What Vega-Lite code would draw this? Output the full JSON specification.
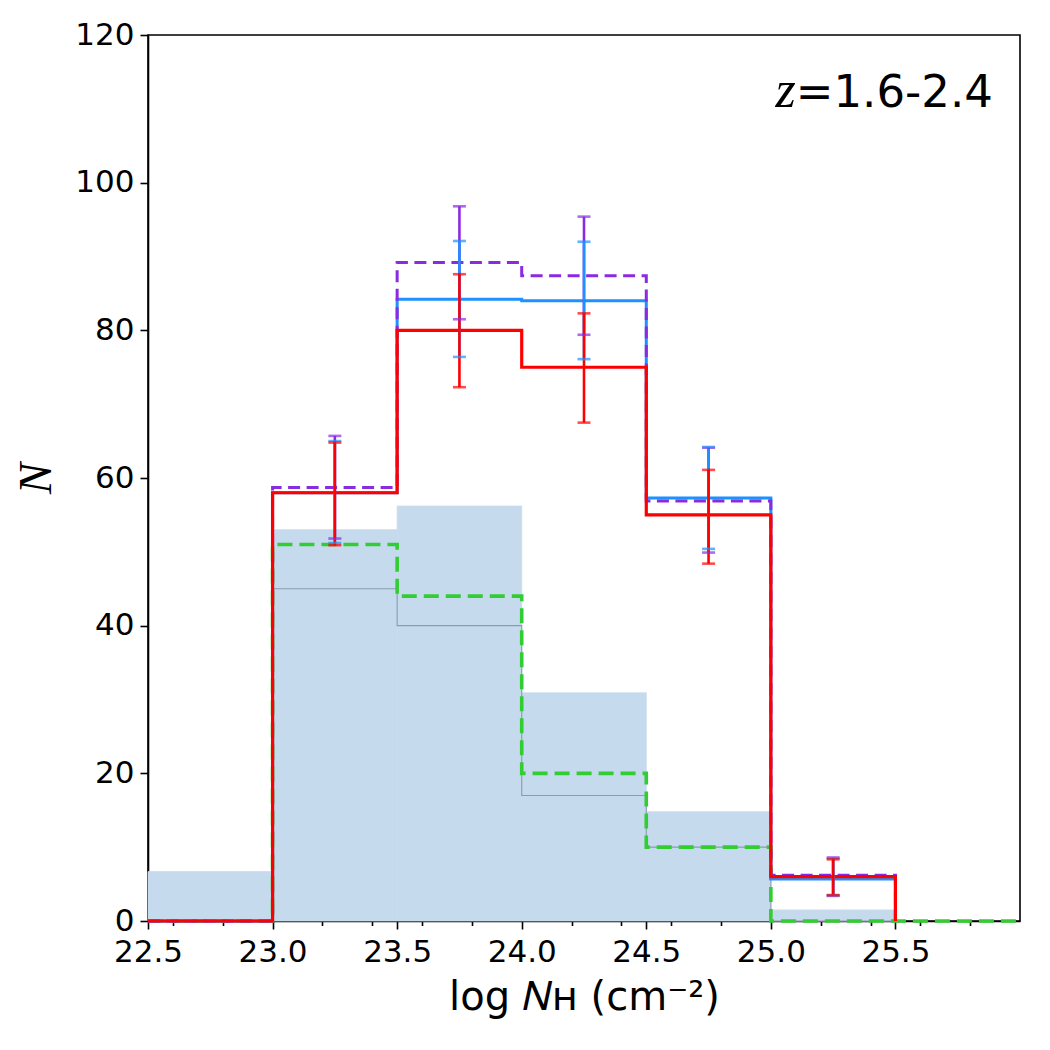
{
  "$schema": "https://vega.github.io/schema/vega-lite/v6.json",
  "autosize": {"type": "none"},
  "width": 872,
  "height": 886,
  "padding": {"left": 148, "top": 35, "right": 30, "bottom": 129},
  "background": "white",
  "config": {
    "view": {"stroke": "black", "strokeWidth": 1.6},
    "axis": {
      "domainColor": "black",
      "domainWidth": 1.6,
      "tickColor": "black",
      "tickWidth": 1.6,
      "grid": false,
      "labelFont": "DejaVu Sans",
      "labelFontSize": 31,
      "labelColor": "black",
      "titleFont": "DejaVu Sans",
      "titleColor": "black",
      "titleFontWeight": "normal"
    }
  },
  "datasets": {
    "hist": [
      {"x0": 22.5, "x1": 23.0, "n": 6.7},
      {"x0": 23.0, "x1": 23.5, "n": 53.0},
      {"x0": 23.5, "x1": 24.0, "n": 56.2},
      {"x0": 24.0, "x1": 24.5, "n": 30.9},
      {"x0": 24.5, "x1": 25.0, "n": 14.8},
      {"x0": 25.0, "x1": 25.5, "n": 1.5}
    ],
    "steps": [
      {"s": "gray", "x": 22.5, "n": 0},
      {"s": "gray", "x": 23.0, "n": 45},
      {"s": "gray", "x": 23.5, "n": 40},
      {"s": "gray", "x": 24.0, "n": 17},
      {"s": "gray", "x": 24.5, "n": 10},
      {"s": "gray", "x": 25.0, "n": 0},
      {"s": "gray", "x": 25.5, "n": 0},

      {"s": "green", "x": 22.5, "n": 0},
      {"s": "green", "x": 23.0, "n": 51},
      {"s": "green", "x": 23.5, "n": 44},
      {"s": "green", "x": 24.0, "n": 20},
      {"s": "green", "x": 24.5, "n": 10},
      {"s": "green", "x": 25.0, "n": 0},
      {"s": "green", "x": 25.5, "n": 0},
      {"s": "green", "x": 26.0, "n": 0},

      {"s": "blue", "x": 22.5, "n": 0},
      {"s": "blue", "x": 23.0, "n": 58},
      {"s": "blue", "x": 23.5, "n": 84.2},
      {"s": "blue", "x": 24.0, "n": 84.0},
      {"s": "blue", "x": 24.5, "n": 57.3},
      {"s": "blue", "x": 25.0, "n": 5.7},
      {"s": "blue", "x": 25.5, "n": 0},

      {"s": "purple", "x": 22.5, "n": 0},
      {"s": "purple", "x": 23.0, "n": 58.7},
      {"s": "purple", "x": 23.5, "n": 89.2},
      {"s": "purple", "x": 24.0, "n": 87.4},
      {"s": "purple", "x": 24.5, "n": 56.9},
      {"s": "purple", "x": 25.0, "n": 6.2},
      {"s": "purple", "x": 25.5, "n": 0},

      {"s": "red", "x": 22.5, "n": 0},
      {"s": "red", "x": 23.0, "n": 58},
      {"s": "red", "x": 23.5, "n": 80},
      {"s": "red", "x": 24.0, "n": 75},
      {"s": "red", "x": 24.5, "n": 55},
      {"s": "red", "x": 25.0, "n": 6},
      {"s": "red", "x": 25.5, "n": 0}
    ],
    "err": [
      {"s": "purple", "x": 23.25, "lo": 51.8, "hi": 65.7},
      {"s": "purple", "x": 23.75, "lo": 81.5, "hi": 96.8},
      {"s": "purple", "x": 24.25, "lo": 79.4, "hi": 95.4},
      {"s": "purple", "x": 24.75, "lo": 49.9, "hi": 64.1},
      {"s": "purple", "x": 25.25, "lo": 3.4, "hi": 8.6},

      {"s": "blue", "x": 23.25, "lo": 51.2, "hi": 65.0},
      {"s": "blue", "x": 23.75, "lo": 76.4, "hi": 92.1},
      {"s": "blue", "x": 24.25, "lo": 76.1, "hi": 92.0},
      {"s": "blue", "x": 24.75, "lo": 50.4, "hi": 64.2},
      {"s": "blue", "x": 25.25, "lo": 3.5, "hi": 8.5},

      {"s": "red", "x": 23.25, "lo": 50.9, "hi": 64.8},
      {"s": "red", "x": 23.75, "lo": 72.3, "hi": 87.6},
      {"s": "red", "x": 24.25, "lo": 67.5, "hi": 82.3},
      {"s": "red", "x": 24.75, "lo": 48.4, "hi": 61.1},
      {"s": "red", "x": 25.25, "lo": 3.5, "hi": 8.35}
    ],
    "label": [
      {"z": "z", "rest": "=1.6-2.4", "x": 25.1, "y": 110.3}
    ]
  },
  "layer": [
    {
      "data": {"name": "hist"},
      "mark": {"type": "rect", "color": "#c6daee", "stroke": "#c6daee", "strokeWidth": 0.8},
      "encoding": {
        "x": {
          "field": "x0",
          "type": "quantitative",
          "scale": {"domain": [22.5, 26.0], "nice": false, "zero": false},
          "axis": {
            "title": "log 𝑁ʜ (cm⁻²)",
            "titleFontSize": 40,
            "titlePadding": 10,
            "values": [22.5, 22.6, 22.8, 23.0, 23.2, 23.4, 23.5, 23.6, 23.8, 24.0, 24.2, 24.4, 24.5, 24.6, 24.8, 25.0, 25.2, 25.4, 25.5, 25.6, 25.8],
            "labelExpr": "abs(datum.value * 2 - round(datum.value * 2)) < 0.01 ? format(datum.value, '.1f') : ''",
            "tickSize": {"condition": {"test": "abs(datum.value * 2 - round(datum.value * 2)) > 0.01", "value": 4.5}, "value": 8},
            "labelPadding": 8,
            "labelFlush": false,
            "labelOverlap": false
          }
        },
        "x2": {"field": "x1"},
        "y": {
          "field": "n",
          "type": "quantitative",
          "scale": {"domain": [0, 120], "nice": false},
          "axis": {
            "title": "N",
            "titleFont": "Liberation Serif",
            "titleFontStyle": "italic",
            "titleFontSize": 47,
            "titlePadding": 14,
            "values": [0, 20, 40, 60, 80, 100, 120],
            "format": "d",
            "tickSize": 8,
            "labelPadding": 6
          }
        },
        "y2": {"datum": 0}
      }
    },
    {
      "data": {"name": "steps"},
      "transform": [{"filter": "datum.s === 'gray'"}],
      "mark": {"type": "line", "interpolate": "step-after", "color": "#8a9bb0", "strokeWidth": 1.1},
      "encoding": {"x": {"field": "x", "type": "quantitative"}, "y": {"field": "n", "type": "quantitative"}}
    },
    {
      "data": {"name": "steps"},
      "transform": [{"filter": "datum.s === 'green'"}],
      "mark": {"type": "line", "interpolate": "step-after", "color": "#32cd32", "strokeWidth": 3.6, "strokeDash": [15, 7]},
      "encoding": {"x": {"field": "x", "type": "quantitative"}, "y": {"field": "n", "type": "quantitative"}}
    },
    {
      "data": {"name": "steps"},
      "transform": [{"filter": "datum.s === 'blue'"}],
      "mark": {"type": "line", "interpolate": "step-after", "color": "#1e90ff", "strokeWidth": 3},
      "encoding": {"x": {"field": "x", "type": "quantitative"}, "y": {"field": "n", "type": "quantitative"}}
    },
    {
      "data": {"name": "steps"},
      "transform": [{"filter": "datum.s === 'purple'"}],
      "mark": {"type": "line", "interpolate": "step-after", "color": "#8a2be2", "strokeWidth": 3, "strokeDash": [12, 6.5]},
      "encoding": {"x": {"field": "x", "type": "quantitative"}, "y": {"field": "n", "type": "quantitative"}}
    },
    {
      "data": {"name": "steps"},
      "transform": [{"filter": "datum.s === 'red'"}],
      "mark": {"type": "line", "interpolate": "step-after", "color": "#ff0000", "strokeWidth": 3.2},
      "encoding": {"x": {"field": "x", "type": "quantitative"}, "y": {"field": "n", "type": "quantitative"}}
    },
    {
      "data": {"name": "err"},
      "mark": {"type": "rule", "strokeWidth": 2.6},
      "encoding": {
        "x": {"field": "x", "type": "quantitative"},
        "y": {"field": "lo", "type": "quantitative"},
        "y2": {"field": "hi"},
        "color": {"field": "s", "type": "nominal", "scale": {"domain": ["purple", "blue", "red"], "range": ["#8a2be2", "#1e90ff", "#ff0000"]}, "legend": null}
      }
    },
    {
      "data": {"name": "err"},
      "mark": {"type": "tick", "orient": "horizontal", "size": 13, "thickness": 2.6},
      "encoding": {
        "x": {"field": "x", "type": "quantitative"},
        "y": {"field": "lo", "type": "quantitative"},
        "color": {"field": "s", "type": "nominal", "legend": null}
      }
    },
    {
      "data": {"name": "err"},
      "mark": {"type": "tick", "orient": "horizontal", "size": 13, "thickness": 2.6},
      "encoding": {
        "x": {"field": "x", "type": "quantitative"},
        "y": {"field": "hi", "type": "quantitative"},
        "color": {"field": "s", "type": "nominal", "legend": null}
      }
    },
    {
      "data": {"name": "label"},
      "mark": {"type": "text", "font": "Liberation Serif", "fontStyle": "italic", "fontSize": 52, "align": "right", "baseline": "alphabetic", "color": "black"},
      "encoding": {"x": {"field": "x", "type": "quantitative"}, "y": {"field": "y", "type": "quantitative"}, "text": {"field": "z"}}
    },
    {
      "data": {"name": "label"},
      "mark": {"type": "text", "font": "DejaVu Sans", "fontSize": 45, "align": "left", "baseline": "alphabetic", "color": "black"},
      "encoding": {"x": {"field": "x", "type": "quantitative"}, "y": {"field": "y", "type": "quantitative"}, "text": {"field": "rest"}}
    }
  ]
}
